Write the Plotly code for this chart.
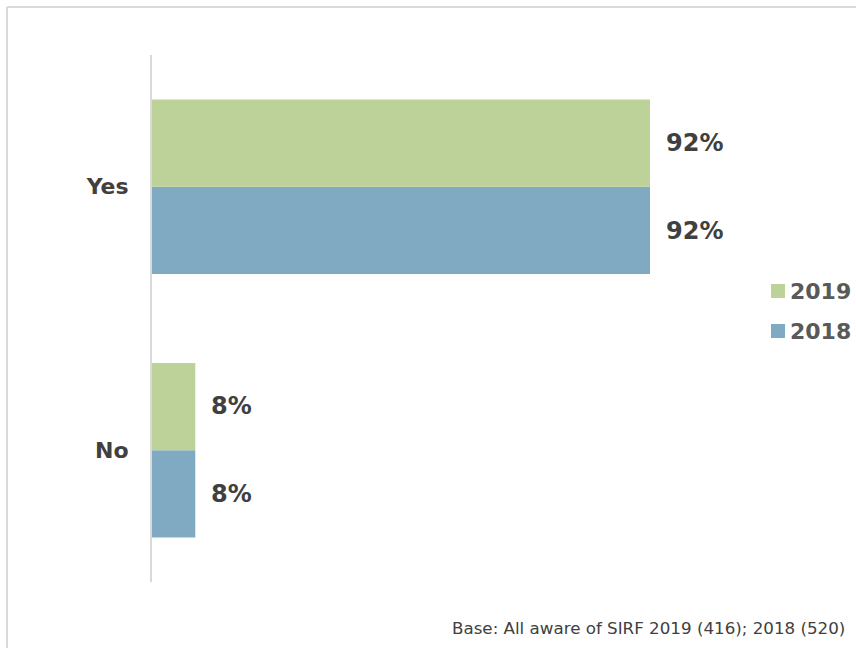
import plotly.graph_objects as go

categories = ["Yes", "No"]
values_2019 = [92, 8]
values_2018 = [92, 8]
series_names = ["2019", "2018"]
colors = {"2019": "#bdd298", "2018": "#7faac1"}
footnote = "Base: All aware of SIRF 2019 (416); 2018 (520)"

FONT = "DejaVu Sans"
TEXT_COLOR = "#404040"
LEGEND_COLOR = "#595959"

# plot area geometry in pixels
W, H = 856, 648
L, R, T, B = 152, 10, 55, 66
PW, PH = W - L - R, H - T - B
XMAX = PW / (498 / 92)  # axis span so that 92% covers 498 px


def px_x(px):
    return (px - L) / PW


def px_y(py):
    return (H - B - py) / PH


fig = go.Figure()
# 2018 first so it sits below 2019 inside each group
fig.add_trace(go.Bar(
    y=categories, x=values_2018, name="2018", orientation="h",
    marker=dict(color=colors["2018"], line=dict(width=0)),
))
fig.add_trace(go.Bar(
    y=categories, x=values_2019, name="2019", orientation="h",
    marker=dict(color=colors["2019"], line=dict(width=0)),
))

# value labels to the right of each bar
annotations = []
for vals, off in ((values_2019, 0.1667), (values_2018, -0.1667)):
    for cat, v in zip(categories, vals):
        yi = 1 if cat == "Yes" else 0
        annotations.append(dict(
            x=v, y=yi + off, xref="x", yref="y", text=f"{v}%",
            showarrow=False, xanchor="left", yanchor="middle", xshift=14,
            font=dict(family=FONT, size=24, color=TEXT_COLOR, weight="bold"),
        ))

# legend: colour square followed by the series name
shapes = []
for name, cy in zip(series_names, (291, 331)):
    shapes.append(dict(
        type="rect", xref="paper", yref="paper",
        x0=px_x(771), x1=px_x(785), y0=px_y(cy + 7), y1=px_y(cy - 7),
        fillcolor=colors[name], line=dict(width=0),
    ))
    annotations.append(dict(
        x=px_x(788), y=px_y(cy), xref="paper", yref="paper", text=name,
        showarrow=False, xanchor="left", yanchor="middle",
        font=dict(family=FONT, size=22, color=LEGEND_COLOR, weight="bold"),
    ))

annotations.append(dict(
    x=px_x(847), y=px_y(628), xref="paper", yref="paper", text=footnote,
    showarrow=False, xanchor="right", yanchor="middle",
    font=dict(family=FONT, size=16.7, color=TEXT_COLOR),
))

# outer frame (top and left edges visible)
shapes.append(dict(type="line", xref="paper", yref="paper",
                   x0=px_x(7), x1=px_x(900), y0=px_y(7), y1=px_y(7),
                   line=dict(color="#d9d9d9", width=2)))
shapes.append(dict(type="line", xref="paper", yref="paper",
                   x0=px_x(7), x1=px_x(7), y0=px_y(7), y1=px_y(700),
                   line=dict(color="#d9d9d9", width=2)))

fig.update_layout(
    width=W, height=H,
    margin=dict(l=L, r=R, t=T, b=B),
    paper_bgcolor="white", plot_bgcolor="white",
    barmode="group", bargap=0.337, bargroupgap=0,
    showlegend=False,
    xaxis=dict(range=[0, XMAX], visible=False, fixedrange=True),
    yaxis=dict(
        categoryorder="array", categoryarray=["No", "Yes"],
        range=[-0.5, 1.5],
        showline=True, linecolor="#d9d9d9", linewidth=2,
        showgrid=False, zeroline=False, ticks="",
        ticklabelstandoff=17,
        tickfont=dict(family=FONT, size=22, color=TEXT_COLOR, weight="bold"),
    ),
    annotations=annotations,
    shapes=shapes,
)

fig.write_html("out.html")
